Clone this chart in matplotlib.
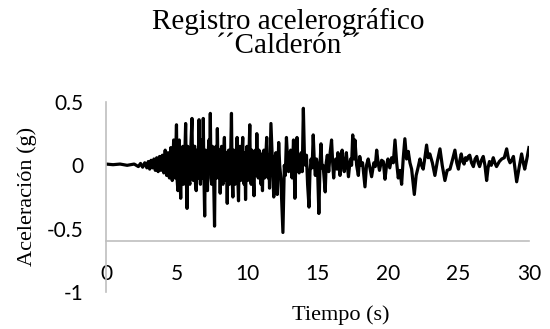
import matplotlib
matplotlib.use("Agg")
import matplotlib.pyplot as plt

# === Registro: (tiempo s, aceleracion g) por tramos ===
tramo_inicio = [(0.0, 0.01), (0.5, 0.005), (1.0, 0.01), (1.5, 0.0), (2.0, 0.01),
                (2.3, -0.01), (2.45, 0.015), (2.6, -0.015), (2.75, 0.02), (2.9, -0.02),
                (3.0, 0.03), (3.1, -0.03), (3.2, 0.04), (3.3, -0.02), (3.4, 0.05),
                (3.5, -0.04), (3.6, 0.06), (3.7, -0.05), (3.8, 0.07), (3.9, -0.04),
                (4.0, 0.08), (4.1, -0.06), (4.2, 0.12), (4.3, -0.08), (4.4, 0.1),
                (4.5, -0.1), (4.6, 0.14), (4.7, -0.12), (4.8, 0.2), (4.9, -0.1)]

tramo_fuerte = [(5.0, 0.32), (5.05, -0.12), (5.1, -0.2), (5.15, 0.1), (5.2, 0.2),
                (5.25, -0.1), (5.3, -0.26), (5.37, 0.12), (5.45, 0.15), (5.5, -0.15),
                (5.55, -0.1), (5.6, 0.12), (5.65, 0.33), (5.7, -0.1), (5.75, -0.34),
                (5.8, 0.15), (5.85, 0.1), (5.9, -0.12), (5.95, -0.15), (6.02, 0.15),
                (6.1, 0.37), (6.15, -0.1), (6.2, -0.12), (6.25, 0.15), (6.3, 0.15),
                (6.35, -0.15), (6.4, -0.2), (6.45, 0.12), (6.5, 0.1), (6.55, -0.1),
                (6.6, 0.36), (6.65, -0.05), (6.7, -0.15), (6.75, 0.1), (6.8, 0.2),
                (6.85, -0.1), (6.9, 0.37), (6.95, -0.1), (7.0, -0.40), (7.05, 0.12),
                (7.1, 0.1), (7.15, -0.15), (7.2, -0.2), (7.25, 0.1), (7.3, 0.2),
                (7.35, -0.05), (7.4, 0.41), (7.45, -0.1), (7.5, -0.15), (7.55, 0.15),
                (7.6, 0.1), (7.65, -0.2), (7.7, -0.48), (7.75, 0.1), (7.8, 0.15),
                (7.85, -0.1), (7.9, 0.29), (7.95, -0.05), (8.0, -0.1), (8.05, 0.12),
                (8.1, -0.22), (8.15, 0.1), (8.2, 0.15), (8.25, -0.12), (8.3, -0.15),
                (8.35, 0.1), (8.4, 0.22), (8.45, -0.12), (8.5, -0.1), (8.55, 0.1),
                (8.6, -0.30), (8.65, 0.1), (8.7, 0.12), (8.75, -0.15), (8.8, -0.1),
                (8.85, 0.12), (8.9, 0.41), (8.95, -0.1), (9.0, -0.25), (9.05, 0.12),
                (9.1, 0.1), (9.15, -0.15), (9.2, -0.1), (9.25, 0.12), (9.3, 0.22),
                (9.35, -0.1), (9.4, -0.28), (9.45, 0.1), (9.5, 0.15), (9.55, -0.12),
                (9.6, -0.1), (9.65, 0.1), (9.7, 0.22), (9.75, -0.08), (9.8, -0.15),
                (9.85, 0.1), (9.9, -0.27), (9.95, 0.05), (10.0, 0.15), (10.05, -0.12),
                (10.1, -0.05), (10.15, 0.12), (10.2, 0.32), (10.25, -0.1), (10.3, -0.15),
                (10.35, 0.12), (10.4, 0.1), (10.45, -0.12), (10.5, -0.24), (10.55, 0.1),
                (10.6, 0.12), (10.65, -0.08), (10.7, 0.25), (10.75, -0.05), (10.8, -0.1),
                (10.85, 0.12), (10.9, 0.1), (10.95, -0.1), (11.0, -0.15), (11.05, 0.08),
                (11.1, -0.2), (11.15, 0.1), (11.2, 0.12), (11.25, -0.1), (11.3, -0.05),
                (11.35, 0.1), (11.4, 0.22), (11.45, -0.05), (11.5, -0.1), (11.55, 0.08),
                (11.6, -0.18)]

tramo_medio = [(11.7, 0.33), (11.8, 0.05), (11.9, -0.25), (11.97, 0.05), (12.05, 0.1),
               (12.15, -0.23), (12.25, 0.18), (12.32, 0.0), (12.4, -0.1), (12.55, -0.53),
               (12.65, 0.0), (12.72, -0.08), (12.8, 0.22), (12.88, 0.05), (12.95, -0.05),
               (13.02, 0.08), (13.1, 0.12), (13.2, -0.1), (13.3, 0.2), (13.4, -0.26),
               (13.47, 0.05), (13.55, 0.22), (13.62, 0.0), (13.7, -0.06), (13.85, 0.1),
               (13.92, -0.05), (14.0, 0.45), (14.08, 0.05), (14.15, 0.0), (14.22, 0.08),
               (14.3, -0.15), (14.4, -0.33), (14.47, -0.05), (14.55, 0.05), (14.62, -0.02),
               (14.7, 0.24), (14.78, 0.02), (14.85, -0.08), (14.93, 0.05), (15.0, 0.0),
               (15.1, -0.38), (15.18, 0.0), (15.25, 0.17), (15.32, -0.02), (15.4, 0.0),
               (15.55, -0.21), (15.62, 0.02), (15.7, 0.08), (15.8, -0.05), (15.9, 0.1),
               (16.0, 0.2), (16.08, 0.02), (16.15, -0.1), (16.22, 0.02), (16.3, 0.05),
               (16.38, -0.03), (16.45, 0.1), (16.52, 0.0), (16.6, -0.08), (16.68, 0.05),
               (16.75, 0.12), (16.82, 0.0), (16.9, -0.05), (16.98, 0.03), (17.05, 0.1),
               (17.12, 0.0), (17.2, -0.09), (17.28, 0.0), (17.35, 0.05), (17.42, 0.0),
               (17.5, 0.24)]

tramo_final = [(17.6, 0.05), (17.66, 0.20), (17.78, 0.0), (17.9, -0.08), (18.0, 0.07),
               (18.1, 0.0), (18.2, 0.02), (18.37, -0.17), (18.48, 0.0), (18.6, 0.05),
               (18.72, -0.02), (18.84, -0.09), (19.0, 0.02), (19.1, -0.01), (19.2, 0.12),
               (19.3, 0.02), (19.4, -0.04), (19.55, 0.04), (19.67, 0.03), (19.79, -0.11),
               (19.9, 0.0), (20.0, 0.05), (20.13, -0.02), (20.26, 0.06), (20.38, 0.02),
               (20.5, 0.20), (20.62, 0.02), (20.73, -0.10), (20.85, -0.04), (20.97, -0.15),
               (21.08, 0.05), (21.2, 0.21), (21.32, 0.05), (21.44, 0.11), (21.56, 0.02),
               (21.68, -0.03), (21.87, -0.23), (22.0, -0.08), (22.13, -0.02), (22.27, 0.05),
               (22.38, 0.0), (22.5, -0.03), (22.62, 0.06), (22.74, 0.16), (22.85, 0.06),
               (22.97, 0.09), (23.15, 0.02), (23.33, -0.08), (23.5, 0.03), (23.69, 0.13),
               (23.85, 0.0), (24.04, -0.12), (24.2, -0.04), (24.4, -0.03), (24.57, 0.04),
               (24.75, 0.12), (24.88, 0.02), (25.0, -0.03), (25.1, 0.04), (25.2, 0.09),
               (25.3, 0.03), (25.4, 0.01), (25.5, 0.06), (25.6, 0.04), (25.7, 0.07),
               (25.8, 0.08), (25.93, 0.02), (26.06, -0.01), (26.18, 0.05), (26.3, 0.07),
               (26.4, 0.02), (26.5, -0.01), (26.63, 0.04), (26.76, 0.07), (26.88, 0.0),
               (27.0, -0.12), (27.1, -0.02), (27.2, 0.03), (27.33, 0.0), (27.47, 0.06),
               (27.58, 0.02), (27.7, -0.01), (27.9, 0.03), (28.07, 0.05), (28.25, 0.06),
               (28.42, 0.13), (28.55, 0.05), (28.66, 0.02), (28.78, 0.04), (28.9, 0.07),
               (29.0, -0.02), (29.13, -0.13), (29.3, -0.02), (29.48, 0.09), (29.6, 0.02),
               (29.7, -0.03), (29.85, 0.05), (30.0, 0.14)]

y_ticks = [-1, -0.5, 0, 0.5]
y_labels = ["-1", "-0.5", "0", "0.5"]
x_ticks = [0, 5, 10, 15, 20, 25, 30]

GRIS = "#bfbfbf"

registro = tramo_inicio + tramo_fuerte + tramo_medio + tramo_final
tiempo = [p[0] for p in registro]
aceleracion = [p[1] for p in registro]

fig = plt.figure(figsize=(5.5, 3.29), dpi=100)
ax = fig.add_axes([0.1927, 0.1125, 0.769, 0.5775])

ax.plot(tiempo, aceleracion, color="black", linewidth=2.3, solid_joinstyle="round")

ax.set_xlim(0, 30)
ax.set_ylim(-1, 0.5)
ax.set_xticks(x_ticks)
ax.set_yticks(y_ticks)
ax.set_yticklabels(y_labels)

# --- ejes estilo Excel: eje X cruza en -0.6 ---
for lado in ["top", "right"]:
    ax.spines[lado].set_visible(False)
ax.spines["bottom"].set_position(("data", -0.6))
ax.spines["bottom"].set_color(GRIS)
ax.spines["left"].set_color(GRIS)
ax.spines["bottom"].set_linewidth(1.2)
ax.spines["left"].set_linewidth(1.2)
ax.tick_params(length=0, labelsize=15, pad=16)
for lbl in ax.get_xticklabels() + ax.get_yticklabels():
    lbl.set_family("Lato")

# --- titulos ---
fig.text(0.524, 0.912, "Registro acelerográfico", ha="center", va="baseline",
         family="Liberation Serif", fontsize=21)
fig.text(0.524, 0.838, "´´Calderón´´", ha="center", va="baseline",
         family="Liberation Serif", fontsize=21)
fig.text(0.05, 0.404, "Aceleración (g)", rotation=90, ha="center", va="center",
         family="Liberation Serif", fontsize=16)
fig.text(0.62, 0.043, "Tiempo (s)", ha="center", va="center",
         family="Liberation Serif", fontsize=16)

fig.savefig("out.png", dpi=100)
